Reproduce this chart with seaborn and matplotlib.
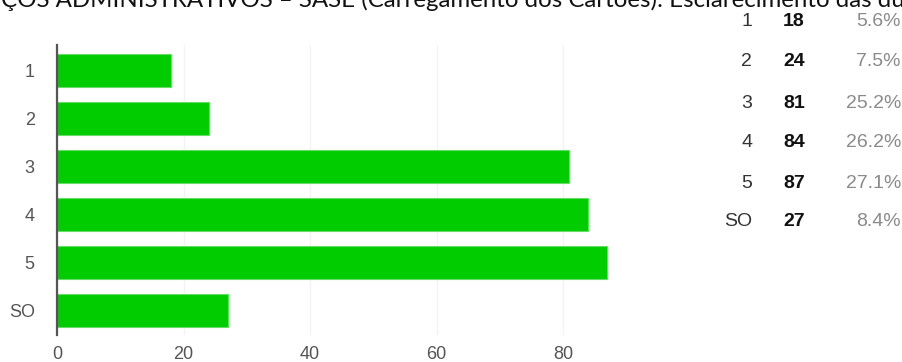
import pandas as pd
import matplotlib
matplotlib.use("Agg")
import matplotlib.pyplot as plt
import seaborn as sns

# dados
categorias = ["1", "2", "3", "4", "5", "SO"]
contagens = [18, 24, 81, 84, 87, 27]
percentuais = ["5.6%", "7.5%", "25.2%", "26.2%", "27.1%", "8.4%"]
titulo = "VIÇOS ADMINISTRATIVOS – SASE (Carregamento dos Cartões): Esclarecimento das dú"

df = pd.DataFrame({"cat": categorias, "n": contagens})

sns.set_style("white")
plt.rcParams["font.family"] = ["Liberation Sans", "DejaVu Sans"]

W, H = 903, 362
fig = plt.figure(figsize=(W / 100, H / 100), dpi=100)

# eixo principal (pixels -> fracao)
x0, x1 = 57, 658
y0, y1 = 45, 335
ax = fig.add_axes([x0 / W, 1 - y1 / H, (x1 - x0) / W, (y1 - y0) / H])

sns.barplot(data=df, x="n", y="cat", orient="h", order=categorias,
            color="#00cc00", saturation=1, width=0.69,
            edgecolor="#66dd66", linewidth=0.8, ax=ax)

ax.set_xlim(0, 95)
ax.set_ylim(5.52, -0.54)
ax.set_xticks([0, 20, 40, 60, 80])
ax.set_xlabel("")
ax.set_ylabel("")
ax.grid(axis="x", color="#f3f3f3", linewidth=1)
ax.set_axisbelow(True)
for s in ["top", "right", "bottom"]:
    ax.spines[s].set_visible(False)
ax.spines["left"].set_color("#555555")
ax.spines["left"].set_linewidth(1.6)
ax.tick_params(axis="both", length=0, labelsize=13, labelcolor="#555555")
ax.tick_params(axis="y", pad=16)
ax.tick_params(axis="x", pad=8)

# titulo cortado no topo
fig.text(-22 / W, 1 - 7 / H, titulo, fontsize=17.3, family=["Lato", "DejaVu Sans"],
         color="#111111", va="baseline", ha="left")

# tabela da direita
linhas_y = [21, 62, 104, 143, 183, 222]
for cat, n, p, yy in zip(categorias, contagens, percentuais, linhas_y):
    yf = 1 - yy / H
    fig.text(752 / W, yf, cat, fontsize=14, color="#333333", ha="right", va="center")
    fig.text(783 / W, yf, str(n), fontsize=14, color="#111111", ha="left",
             va="center", fontweight="bold")
    fig.text(901 / W, yf, p, fontsize=14, color="#8a8a8a", ha="right", va="center")

fig.savefig("out.png", dpi=100)
